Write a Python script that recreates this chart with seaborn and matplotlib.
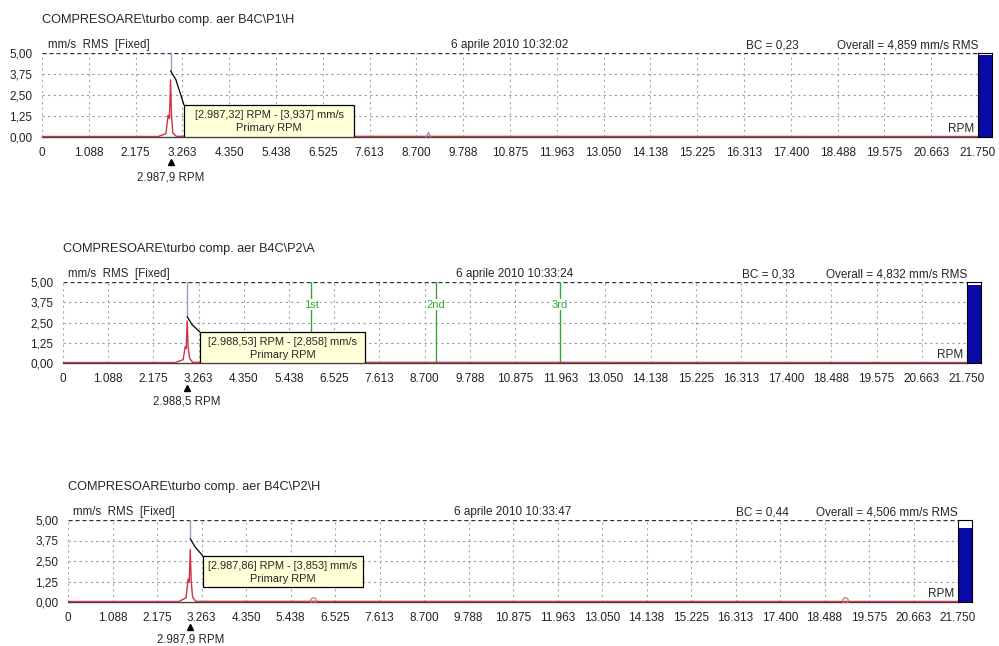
import numpy as np
import matplotlib
matplotlib.use("Agg")
import matplotlib.pyplot as plt
import seaborn as sns
from matplotlib.patches import Rectangle
from matplotlib.transforms import blended_transform_factory

# ---- data ----
titles = [r"COMPRESOARE\turbo comp. aer B4C\P1\H",
          r"COMPRESOARE\turbo comp. aer B4C\P2\A",
          r"COMPRESOARE\turbo comp. aer B4C\P2\H"]
dates = ["6 aprile 2010 10:32:02", "6 aprile 2010 10:33:24", "6 aprile 2010 10:33:47"]
bc_labels = ["BC = 0,23", "BC = 0,33", "BC = 0,44"]
overall_values = [4.859, 4.832, 4.506]
overall_labels = ["Overall = 4,859 mm/s RMS", "Overall = 4,832 mm/s RMS", "Overall = 4,506 mm/s RMS"]

cursor_rpm = [2987.32, 2988.53, 2987.86]
cursor_amp = [3.937, 2.858, 3.853]
cursor_texts = ["[2.987,32] RPM - [3,937] mm/s",
                "[2.988,53] RPM - [2,858] mm/s",
                "[2.987,86] RPM - [3,853] mm/s"]
primary_rpm = [2987.9, 2988.5, 2987.9]
primary_labels = ["2.987,9 RPM", "2.988,5 RPM", "2.987,9 RPM"]

freq_1 = [0, 2700, 2880, 2930, 2960, 2988, 3010, 3040, 3120, 21750]
amp_1 = [0.03, 0.03, 0.2, 1.3, 1.1, 3.4, 1.2, 0.25, 0.04, 0.03]
freq_2 = [0, 2700, 2890, 2940, 2965, 2988, 3010, 3045, 3120, 21750]
amp_2 = [0.03, 0.03, 0.2, 1.0, 0.9, 2.6, 1.0, 0.3, 0.04, 0.03]
freq_3 = [0, 2700, 2885, 2935, 2962, 2988, 3010, 3045, 3120, 21750]
amp_3 = [0.03, 0.03, 0.25, 1.4, 1.2, 3.2, 1.3, 0.3, 0.04, 0.03]
spectra = [(freq_1, amp_1), (freq_2, amp_2), (freq_3, amp_3)]

order_rpm = [5977, 8965, 11954]
order_labels = ["1st", "2nd", "3rd"]

# small harmonic markers on the baseline
marker_rpm = [[8965], [], [5977, 18990]]
marker_shape = ["^", "o", "o"]

x_tick_labels = ["0", "1.088", "2.175", "3.263", "4.350", "5.438", "6.525", "7.613",
                 "8.700", "9.788", "10.875", "11.963", "13.050", "14.138", "15.225",
                 "16.313", "17.400", "18.488", "19.575", "20.663", "21.750"]
y_tick_labels = ["0,00", "1,25", "2,50", "3,75", "5,00"]

# ---- layout (pixels: left, right, top, bottom) ----
W, H = 999, 646
panels = [(42, 978, 53, 137), (63, 967, 282, 363), (68, 958, 520, 602)]
boxes = [(3300, 7250, 0.0, 1.9), (3296, 7266, 0.0, 1.91), (3299, 7209, 0.91, 2.8)]
below_text = [40, 38, 37]
bar_w = 14

sns.set_theme(style="white")
plt.rcParams['font.family'] = ['Liberation Sans', 'DejaVu Sans']

fig = plt.figure(figsize=(W / 100, H / 100), dpi=100)
fig.patch.set_facecolor("white")

x_ticks = np.linspace(0, 21750, 21)
y_ticks = [0, 1.25, 2.5, 3.75, 5]

for i, (l, r, t, b) in enumerate(panels):
    ax = fig.add_axes([l / W, 1 - b / H, (r - l) / W, (b - t) / H])
    freq, amp = spectra[i]

    # grid
    for xv in x_ticks:
        ax.axvline(xv, color="#a8a8a8", lw=0.8, ls=(0, (2, 3)), zorder=0)
    for yv in y_ticks[1:4]:
        ax.axhline(yv, color="#999999", lw=0.8, ls=(0, (2, 3)), zorder=0)
    ax.axhline(5, color="#333333", lw=1.0, ls=(0, (3, 2)), zorder=1)

    # spectrum
    sns.lineplot(x=freq, y=amp, ax=ax, color="#cc3344", linewidth=1.0, zorder=4)

    # order lines (second panel only)
    if i == 1:
        for o, lab in zip(order_rpm, order_labels):
            ax.axvline(o, color="#33aa33", lw=1.0, zorder=2)
            ax.text(o, 3.6, lab, color="#33aa33", fontsize=8, ha="center", va="center",
                    bbox=dict(facecolor="white", edgecolor="none", pad=0.5), zorder=3)

    for m in marker_rpm[i]:
        ax.plot(m, 0.12, marker=marker_shape[i], ms=4, mfc="none",
                mec="#c07070" if i == 2 else "#888888", mew=0.8, zorder=5)

    # cursor at the primary peak
    ax.plot([cursor_rpm[i], cursor_rpm[i]], [cursor_amp[i], 5], color="#b090c8", lw=1.0, zorder=5)
    x0, x1, y0, y1 = boxes[i]
    ax.plot([cursor_rpm[i], cursor_rpm[i] + 120, x0], [cursor_amp[i], cursor_amp[i] - 0.5, y1],
            color="black", lw=0.9, zorder=5)
    ax.add_patch(Rectangle((x0, y0), x1 - x0, y1 - y0, facecolor="#ffffd8",
                           edgecolor="black", lw=0.9, zorder=6))
    ax.text((x0 + x1) / 2, y0 + (y1 - y0) * 0.68, cursor_texts[i], fontsize=7.9,
            ha="center", va="center", zorder=7)
    ax.text((x0 + x1) / 2, y0 + (y1 - y0) * 0.27, "Primary RPM", fontsize=7.9,
            ha="center", va="center", zorder=7)

    ax.text(0.996, 0.1, "RPM", transform=ax.transAxes, fontsize=8.5, ha="right", va="center")

    ax.set_xlim(0, 21750)
    ax.set_ylim(0, 5)
    ax.set_xticks(x_ticks)
    ax.set_xticklabels(x_tick_labels)
    ax.set_yticks(y_ticks)
    ax.set_yticklabels(y_tick_labels)
    ax.tick_params(axis="both", labelsize=8.5, length=3, width=0.8, colors="#222222", pad=4)
    ax.set_xlabel("")
    ax.set_ylabel("")
    for side in ["left", "right", "top"]:
        ax.spines[side].set_visible(False)
    ax.spines["bottom"].set_color("#444444")
    ax.spines["bottom"].set_linewidth(1.0)

    # header texts
    ax.text(0, 1 + 33 / (b - t), titles[i], transform=ax.transAxes, fontsize=9.2,
            ha="left", va="center")
    ax.text(0.006, 1.02, "mm/s  RMS  [Fixed]", transform=ax.transAxes, fontsize=8.3,
            ha="left", va="bottom")
    ax.text(0.5, 1.02, dates[i], transform=ax.transAxes, fontsize=8.5, ha="center", va="bottom")
    ax.text(0.78, 1.02, bc_labels[i], transform=ax.transAxes, fontsize=8.5, ha="center", va="bottom")
    ax.text(1.0, 1.02, overall_labels[i], transform=ax.transAxes, fontsize=8.5, ha="right", va="bottom")

    # primary RPM marker under the axis
    trans = blended_transform_factory(ax.transData, ax.transAxes)
    ax.plot(primary_rpm[i], -25 / (b - t), marker="^", ms=5, color="black",
            transform=trans, clip_on=False)
    ax.text(primary_rpm[i], -below_text[i] / (b - t), primary_labels[i], transform=trans,
            fontsize=8.3, ha="center", va="center")

    # overall level bar
    bax = fig.add_axes([r / W, 1 - b / H, bar_w / W, (b - t) / H])
    bax.bar([0], [overall_values[i]], width=1.0, color="#0a0aa8", edgecolor="none")
    bax.set_xlim(-0.5, 0.5)
    bax.set_ylim(0, 5)
    bax.set_xticks([])
    bax.set_yticks([])
    for sp in bax.spines.values():
        sp.set_visible(True)
        sp.set_color("black")
        sp.set_linewidth(0.8)

fig.savefig("out.png", dpi=100, facecolor="white")
